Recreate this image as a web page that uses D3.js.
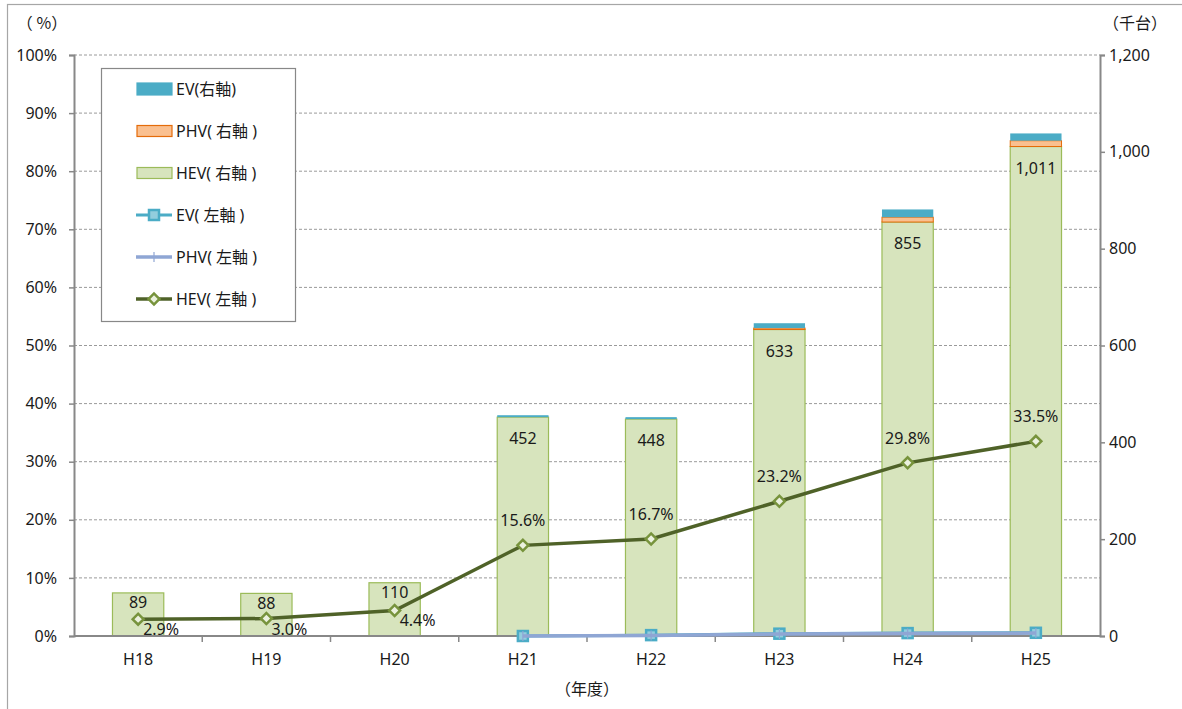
<!DOCTYPE html>
<html><head><meta charset="utf-8">
<script src="https://cdn.jsdelivr.net/npm/d3@7"></script>
<style>
body{margin:0;background:#fff;}
text{font-family:"Noto Sans","Noto Sans CJK JP",sans-serif;fill:#1a1a1a;}
</style></head>
<body><svg id="c" width="1182" height="709"></svg>
<script>
const categories = ["H18","H19","H20","H21","H22","H23","H24","H25"];
const hevBar = [89, 88, 110, 452, 448, 633, 855, 1011];
const phvBar = [0, 0, 0, 0, 0, 3, 10, 12];
const evBar  = [0, 0, 0, 4, 4, 10, 16, 15];
const hevLine = [2.9, 3.0, 4.4, 15.6, 16.7, 23.2, 29.8, 33.5];
const evLine  = [null, null, null, 0.0, 0.15, 0.4, 0.5, 0.55];
const phvLine = [null, null, null, 0.0, 0.1, 0.35, 0.45, 0.5];
const leftTicks = [0,10,20,30,40,50,60,70,80,90,100];
const rightTicks = [0,200,400,600,800,1000,1200];

const svg = d3.select("#c");
const L = 74, R = 1100, T = 55, B = 636;
const x = d3.scaleBand().domain(categories).range([L, R]).paddingInner(0.6).paddingOuter(0.3);
const yL = d3.scaleLinear().domain([0, 100]).range([B, T]);
const yR = d3.scaleLinear().domain([0, 1200]).range([B, T]);
const cx = c => x(c) + x.bandwidth() / 2;
const axisCol = "#888";
const FS = "16px";

// outer border
svg.append("rect").attr("x", 7.5).attr("y", 4.5).attr("width", 1300).attr("height", 800)
  .attr("fill", "none").attr("stroke", "#a6a6a6").attr("stroke-width", 1.2);

// gridlines
svg.append("g").selectAll("line").data(leftTicks.filter(d => d > 0)).join("line")
  .attr("x1", L).attr("x2", R).attr("y1", d => yL(d)).attr("y2", d => yL(d))
  .attr("stroke", "#9a9a9a").attr("stroke-width", 1).attr("stroke-dasharray", "3,2");

// bars
const stackData = categories.map((c, i) => ({c, hev: hevBar[i], phv: phvBar[i], ev: evBar[i]}));
const gB = svg.append("g");
gB.selectAll("rect.hev").data(stackData).join("rect").attr("class", "hev")
  .attr("x", d => x(d.c)).attr("width", x.bandwidth())
  .attr("y", d => yR(d.hev)).attr("height", d => yR(0) - yR(d.hev))
  .attr("fill", "#d7e4bd").attr("stroke", "#9bbb59").attr("stroke-width", 1.2);
gB.selectAll("rect.phv").data(stackData.filter(d => d.phv > 0)).join("rect").attr("class", "phv")
  .attr("x", d => x(d.c)).attr("width", x.bandwidth())
  .attr("y", d => yR(d.hev + d.phv)).attr("height", d => yR(d.hev) - yR(d.hev + d.phv))
  .attr("fill", "#fac090").attr("stroke", "#e46c0a").attr("stroke-width", 1);
gB.selectAll("rect.ev").data(stackData.filter(d => d.ev > 0)).join("rect").attr("class", "ev")
  .attr("x", d => x(d.c)).attr("width", x.bandwidth())
  .attr("y", d => yR(d.hev + d.phv + d.ev)).attr("height", d => yR(d.hev + d.phv) - yR(d.hev + d.phv + d.ev))
  .attr("fill", "#4bacc6");

// axes
const axL = svg.append("g").attr("transform", `translate(${L},0)`)
  .call(d3.axisLeft(yL).tickValues(leftTicks).tickFormat(d => d + "%").tickSize(5).tickPadding(12));
const axR = svg.append("g").attr("transform", `translate(${R},0)`)
  .call(d3.axisRight(yR).tickValues(rightTicks).tickFormat(d3.format(",")).tickSize(5).tickPadding(4));
const axB = svg.append("g").attr("transform", `translate(0,${B})`)
  .call(d3.axisBottom(x).tickSize(0).tickPadding(18));
[axL, axR, axB].forEach(a => {
  a.select(".domain").attr("stroke", axisCol).attr("stroke-width", 2);
  a.selectAll(".tick line").attr("stroke", axisCol).attr("stroke-width", 1.5);
  a.selectAll(".tick text").style("font-size", FS).style("font-family", "'Noto Sans',sans-serif").attr("fill", "#1a1a1a");
});
axB.select(".domain").attr("d", `M${L},0H${R}`);
// category separator ticks
const step = x.step();
svg.append("g").selectAll("line").data(categories.slice(1)).join("line")
  .attr("x1", d => x(d) - x.paddingInner() * step / 2).attr("x2", d => x(d) - x.paddingInner() * step / 2)
  .attr("y1", B).attr("y2", B + 6).attr("stroke", axisCol).attr("stroke-width", 1.5);

// bar labels
svg.append("g").selectAll("text").data(stackData).join("text")
  .attr("x", d => cx(d.c))
  .attr("y", d => yR(d.hev) + ((yR(0) - yR(d.hev)) > 100 ? 21 : 9.5))
  .attr("text-anchor", "middle").attr("dominant-baseline", "central")
  .style("font-size", FS).text(d => d3.format(",")(d.hev));

// lines
const lineGen = d3.line().defined(d => d.v != null).x(d => cx(d.c)).y(d => yL(d.v));
const hevPts = categories.map((c, i) => ({c, v: hevLine[i]}));
const evPts = categories.map((c, i) => ({c, v: evLine[i]}));
const phvPts = categories.map((c, i) => ({c, v: phvLine[i]}));

svg.append("path").datum(evPts).attr("d", lineGen).attr("fill", "none")
  .attr("stroke", "#4bacc6").attr("stroke-width", 3);
svg.append("g").selectAll("rect").data(evPts.filter(d => d.v != null)).join("rect")
  .attr("x", d => cx(d.c) - 5).attr("y", d => yL(d.v) - 5).attr("width", 10).attr("height", 10)
  .attr("fill", "#93cddd").attr("stroke", "#4bacc6").attr("stroke-width", 2.5);
svg.append("path").datum(phvPts).attr("d", lineGen).attr("fill", "none")
  .attr("stroke", "#8fa6d4").attr("stroke-width", 3.5);
svg.append("g").selectAll("line").data(phvPts.filter(d => d.v != null)).join("line")
  .attr("x1", d => cx(d.c)).attr("x2", d => cx(d.c)).attr("y1", d => yL(d.v) - 5).attr("y2", d => yL(d.v) + 5)
  .attr("stroke", "#8fa6d4").attr("stroke-width", 1.2);

svg.append("path").datum(hevPts).attr("d", lineGen).attr("fill", "none")
  .attr("stroke", "#4f6228").attr("stroke-width", 3.5);
svg.append("g").selectAll("path").data(hevPts).join("path")
  .attr("transform", d => `translate(${cx(d.c)},${yL(d.v)}) rotate(45)`)
  .attr("d", d3.symbol().type(d3.symbolSquare).size(60))
  .attr("fill", "#ebf1de").attr("stroke", "#77933c").attr("stroke-width", 2.5);

// line labels
svg.append("g").selectAll("text").data(hevPts).join("text")
  .attr("x", (d, i) => cx(d.c) + (i < 3 ? 23 : 0))
  .attr("y", (d, i) => yL(d.v) + (i < 3 ? 10 : -25))
  .attr("text-anchor", "middle").attr("dominant-baseline", "central")
  .style("font-size", FS).text(d => d.v.toFixed(1) + "%");

// axis titles
const cjk = "'Noto Sans CJK JP',sans-serif";
svg.append("text").attr("x", 42).attr("y", 22).attr("text-anchor", "middle").attr("dominant-baseline", "central")
  .style("font-size", FS).style("font-family", cjk).text("（ %）");
svg.append("text").attr("x", 1135).attr("y", 22).attr("text-anchor", "middle").attr("dominant-baseline", "central")
  .style("font-size", FS).style("font-family", cjk).text("（千台）");
svg.append("text").attr("x", (L + R) / 2).attr("y", 688).attr("text-anchor", "middle").attr("dominant-baseline", "central")
  .style("font-size", FS).style("font-family", cjk).text("（年度）");

// legend
const lg = svg.append("g");
lg.append("rect").attr("x", 101.5).attr("y", 68.5).attr("width", 194).attr("height", 253)
  .attr("fill", "#fff").attr("stroke", "#888").attr("stroke-width", 1.2);
const legendItems = [
  {label: "EV(右軸)", type: "bar", fill: "#4bacc6", stroke: "#4bacc6", h: 12},
  {label: "PHV( 右軸 )", type: "bar", fill: "#fac090", stroke: "#e46c0a", h: 11},
  {label: "HEV( 右軸 )", type: "bar", fill: "#d7e4bd", stroke: "#9bbb59", h: 11},
  {label: "EV( 左軸 )", type: "ev"},
  {label: "PHV( 左軸 )", type: "phv"},
  {label: "HEV( 左軸 )", type: "hev"}
];
const rowY = d3.scaleLinear().domain([0, 5]).range([89, 299]);
legendItems.forEach((it, i) => {
  const y = rowY(i), g = lg.append("g");
  if (it.type === "bar") {
    g.append("rect").attr("x", 137).attr("y", y - it.h / 2).attr("width", 35).attr("height", it.h)
      .attr("fill", it.fill).attr("stroke", it.stroke).attr("stroke-width", 1.2);
  } else if (it.type === "ev") {
    g.append("line").attr("x1", 136).attr("x2", 172).attr("y1", y).attr("y2", y).attr("stroke", "#4bacc6").attr("stroke-width", 3);
    g.append("rect").attr("x", 149).attr("y", y - 5).attr("width", 10).attr("height", 10)
      .attr("fill", "#93cddd").attr("stroke", "#4bacc6").attr("stroke-width", 2.5);
  } else if (it.type === "phv") {
    g.append("line").attr("x1", 136).attr("x2", 172).attr("y1", y).attr("y2", y).attr("stroke", "#8fa6d4").attr("stroke-width", 3.5);
    g.append("line").attr("x1", 154).attr("x2", 154).attr("y1", y - 5).attr("y2", y + 5).attr("stroke", "#8fa6d4").attr("stroke-width", 1.2);
  } else {
    g.append("line").attr("x1", 136).attr("x2", 172).attr("y1", y).attr("y2", y).attr("stroke", "#4f6228").attr("stroke-width", 3.5);
    g.append("path").attr("transform", `translate(154,${y}) rotate(45)`)
      .attr("d", d3.symbol().type(d3.symbolSquare).size(60))
      .attr("fill", "#ebf1de").attr("stroke", "#77933c").attr("stroke-width", 2.5);
  }
  g.append("text").attr("x", 176).attr("y", y).attr("dominant-baseline", "central")
    .style("font-size", "16px").style("white-space", "pre").text(it.label);
});
</script></body></html>
